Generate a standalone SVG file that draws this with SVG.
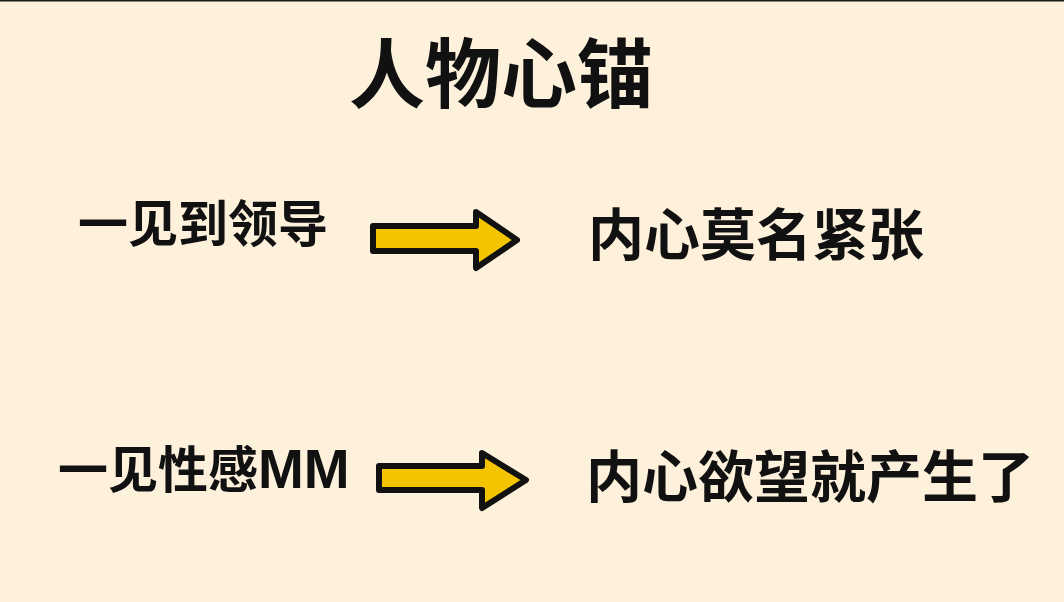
<svg xmlns="http://www.w3.org/2000/svg" width="1064" height="602" viewBox="0 0 1064 602">
<style>
.t{font-family:"Noto Sans CJK SC","Liberation Sans",sans-serif;font-weight:bold;fill:#111}
.arrow{fill:#F5C400;stroke:#111;stroke-width:6;stroke-linejoin:round}
</style>
<rect width="1064" height="602" fill="#FDF1DC"/>
<rect width="1064" height="1.5" fill="#1a1a1a"/>
<g id="title"><text class="t" x="501" y="102" font-size="76" text-anchor="middle">人物心锚</text></g>
<g id="n1"><text class="t" x="78" y="242" font-size="50">一见到领导</text></g>
<g id="n2"><text class="t" x="588" y="255" font-size="56">内心莫名紧张</text></g>
<g id="n3"><text class="t" x="58" y="488" font-size="50">一见性感<tspan font-family="'Liberation Sans',sans-serif" font-weight="bold" font-size="55">MM</tspan></text></g>
<g id="n4"><text class="t" x="586" y="497" font-size="56">内心欲望就产生了</text></g>
<g id="connectors">
<path class="arrow" d="M373,226 L476,226 L476,212 L517,240 L476,268 L476,251 L373,251 Z"/>
<path class="arrow" d="M379,466 L482,466 L482,453 L526,480 L482,508 L482,490 L379,490 Z"/>
</g>
</svg>
